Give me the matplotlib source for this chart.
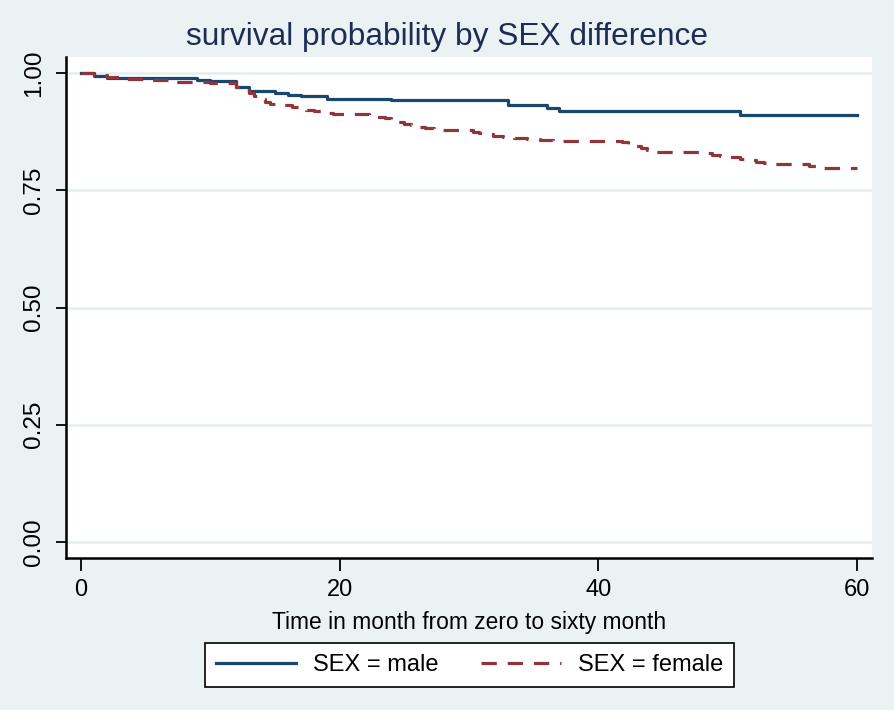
import matplotlib
matplotlib.use("Agg")
import matplotlib.pyplot as plt

plt.rcParams["font.family"] = ["Liberation Sans", "DejaVu Sans"]

BG = "#EAF2F3"
C_MALE = "#1A476F"
C_FEMALE = "#90353B"

# Kaplan-Meier step estimates
male_t = [0, 1, 2, 9, 10, 12, 13, 15, 16, 17, 19, 24, 33, 36, 37, 51, 60]
male_s = [1.000, 0.994, 0.990, 0.986, 0.983, 0.971, 0.962, 0.958, 0.953,
          0.951, 0.944, 0.942, 0.931, 0.925, 0.919, 0.910, 0.910]

female_t = [0, 1, 2, 3, 5, 7, 10, 12, 12.5, 13.0, 13.4, 13.8, 14.2, 14.6,
            15.0, 16.3, 16.9, 17.4, 18.0, 18.7, 19.5, 22.3, 22.9, 23.5,
            24.0, 24.5, 25.0, 25.5, 26.0, 26.6, 27.3, 28.0, 30.3, 30.8,
            31.3, 31.9, 32.6, 33.5, 34.5, 35.5, 36.5, 41.8, 42.3, 42.8,
            43.3, 43.8, 44.3, 48.3, 48.8, 49.4, 50.2, 51.0, 51.6, 52.2,
            52.8, 53.4, 56.3, 56.9, 57.4, 60]
female_s = [1.000, 0.996, 0.992, 0.988, 0.985, 0.981, 0.978, 0.971, 0.964,
            0.957, 0.950, 0.944, 0.938, 0.934, 0.931, 0.928, 0.925, 0.921,
            0.918, 0.915, 0.912, 0.909, 0.906, 0.903, 0.899, 0.895, 0.891,
            0.888, 0.885, 0.882, 0.880, 0.878, 0.875, 0.872, 0.869, 0.866,
            0.864, 0.862, 0.860, 0.858, 0.855, 0.852, 0.848, 0.844, 0.840,
            0.836, 0.832, 0.829, 0.826, 0.823, 0.820, 0.817, 0.814, 0.811,
            0.808, 0.805, 0.802, 0.800, 0.798, 0.798]

x_ticks = [0, 20, 40, 60]
y_ticks = [0.0, 0.25, 0.5, 0.75, 1.0]
y_labels = ["0.00", "0.25", "0.50", "0.75", "1.00"]

fig = plt.figure(figsize=(8.95, 7.10), dpi=100, facecolor=BG)
ax = fig.add_axes([0.0737, 0.2141, 0.9006, 0.7056])
ax.set_facecolor("white")

ax.step(male_t, male_s, where="post", color=C_MALE, lw=2.3,
        label="SEX = male")
ax.step(female_t, female_s, where="post", color=C_FEMALE, lw=2.3,
        dashes=(4.8, 3.4), label="SEX = female")

ax.set_xlim(-1.16, 61.17)
ax.set_ylim(-0.034, 1.034)
ax.set_xticks(x_ticks)
ax.set_yticks(y_ticks)
ax.set_yticklabels(y_labels, rotation=90, va="center")
ax.tick_params(axis="x", labelsize=17, length=9, width=1.3, pad=6)
ax.tick_params(axis="y", labelsize=17.5, length=7, width=1.3, pad=8)
ax.grid(axis="y", color="#E4EEF0", lw=1.8)
ax.set_axisbelow(True)
for s in ("top", "right"):
    ax.spines[s].set_visible(False)
for s in ("left", "bottom"):
    ax.spines[s].set_linewidth(1.8)

ax.set_xlabel("Time in month from zero to sixty month", fontsize=16.4,
              labelpad=7)
fig.text(0.5, 0.948, "survival probability by SEX difference", ha="center",
         va="center", fontsize=22.8, color="#1E2D53")

leg = fig.legend(loc="center", bbox_to_anchor=(0.5246, 0.0634), ncol=2,
                 fontsize=17, frameon=True, fancybox=False, edgecolor="black",
                 framealpha=1, handlelength=3.4, columnspacing=1.8,
                 borderpad=0.45, handletextpad=0.7)
leg.get_frame().set_linewidth(1.2)

fig.savefig("out.png", dpi=100, facecolor=BG)
